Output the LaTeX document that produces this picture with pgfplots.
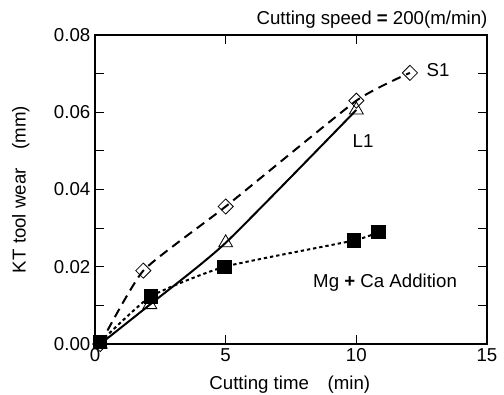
\documentclass[border=0pt]{standalone}
\usepackage{pgfplots}
\pgfplotsset{compat=1.18}
\usepackage{fontspec}
\setmainfont{Liberation Sans}
\begin{document}
\begin{tikzpicture}
\begin{axis}[
  scale only axis,
  width=294pt, height=231.75pt,
  xmin=0, xmax=15, ymin=0, ymax=0.08,
  xtick={0,5,10,15},
  ytick={0,0.02,0.04,0.06,0.08},
  minor ytick={0.01,0.03,0.05,0.07},
  tick align=inside,
  major tick length=7pt, minor tick length=7pt,
  tick style={black, line width=0.8pt},
  axis line style={line width=1.1pt},
  scaled ticks=false,
  yticklabel style={/pgf/number format/.cd, fixed, fixed zerofill, precision=2},
  /pgf/number format/assume math mode=true,
  font=\fontsize{14}{16}\selectfont,
  xlabel={Cutting time\quad(min)},
  ylabel={KT tool wear\quad(mm)},
  xlabel style={at={(axis description cs:0.497,-0.13)}, anchor=center},
  ylabel style={at={(axis description cs:-0.189,0.5)}, anchor=center},
  clip=false,
]
\addplot[black, line width=1.5pt, smooth, tension=0.35, mark=triangle, mark size=6pt, mark options={solid, fill=white, line width=0.6pt}]
  coordinates {(0.2,0.0) (2.1,0.0102) (5.0,0.0262) (10.0,0.0606)};
\addplot[black, line width=1.5pt, dash pattern=on 7pt off 4.5pt, smooth, tension=0.3, mark=square, mark size=4pt, mark options={solid, rotate=45, fill=white, line width=0.6pt}]
  coordinates {(0.2,0.0) (1.85,0.0190) (5.0,0.0356) (10.0,0.0630) (12.05,0.0702)};
\addplot[black, line width=1.5pt, dash pattern=on 2.5pt off 2.2pt, smooth, tension=0.3, mark=square*, mark size=4.6pt, mark options={solid, fill=black}]
  coordinates {(0.2,0.0005) (2.13,0.0123) (4.96,0.0200) (9.9,0.0268) (10.85,0.0290)};
\node at (axis cs:13.13,0.0708) {S1};
\node at (axis cs:10.26,0.0526) {L1};
\node at (axis cs:11.1,0.0158) {Mg \textbf{+} Ca Addition};
\node[anchor=east] at (axis description cs:1.013,1.049) {Cutting speed \textbf{=} 200(m/min)};
\end{axis}
\pgfresetboundingbox
\path[use as bounding box] (-71.25pt,-37.5pt) rectangle (306.75pt,258pt);
\end{tikzpicture}
\end{document}
